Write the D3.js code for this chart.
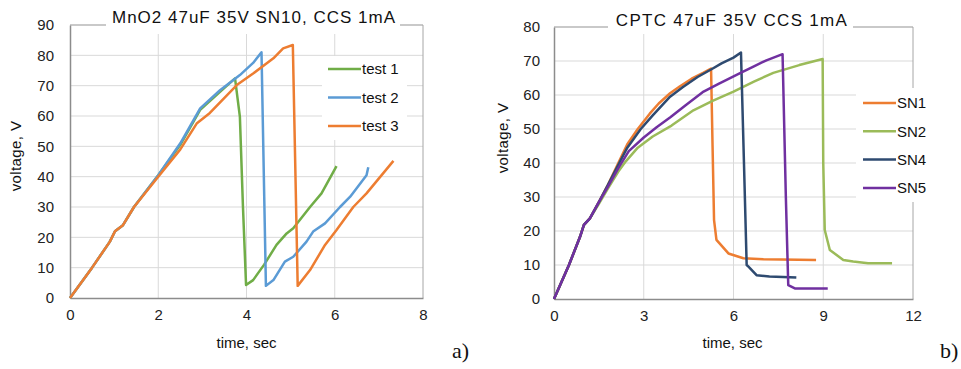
<!DOCTYPE html>
<html>
<head>
<meta charset="utf-8">
<script src="https://cdn.jsdelivr.net/npm/d3@7"></script>
<style>
  body { margin: 0; background: #fff; }
  svg { display: block; font-family: "Liberation Sans", Arial, sans-serif; }
</style>
</head>
<body>
<svg id="chart" width="961" height="369"></svg>
<script>
// ---- data (time in sec, voltage in V) ----
const leftTitle = 'MnO2 47uF 35V SN10, CCS 1mA';
const leftNames = ['test 1', 'test 2', 'test 3'];
const leftXTicks = [0, 2, 4, 6, 8];
const leftYTicks = [0, 10, 20, 30, 40, 50, 60, 70, 80, 90];

const test1 = [[0, 0], [0.5, 10], [0.9, 18.5], [1.02, 22], [1.2, 24], [1.45, 30], [2, 40.5], [2.5, 50.5],
  [2.95, 62], [3.4, 68], [3.74, 72.4], [3.85, 59.8], [3.92, 30], [3.99, 4.3], [4.15, 5.9], [4.4, 11],
  [4.68, 17.5], [4.91, 21.3], [5.06, 23], [5.44, 30], [5.7, 34.5], [6.04, 43.5]];
const test2 = [[0, 0], [0.5, 10], [0.9, 18.5], [1.02, 22], [1.2, 24], [1.45, 30], [2, 40.5], [2.5, 51],
  [2.95, 62.5], [3.4, 68.5], [3.85, 73.5], [4.15, 77.5], [4.34, 81], [4.44, 4], [4.61, 5.9], [4.87, 12],
  [5.06, 13.6], [5.36, 18.6], [5.51, 21.9], [5.78, 24.6], [6.12, 30], [6.35, 33.4], [6.72, 40.5], [6.76, 43.1]];
const test3 = [[0, 0], [0.5, 10], [0.9, 18.5], [1.02, 22], [1.2, 24], [1.45, 30], [2, 40], [2.5, 49],
  [2.87, 57.5], [3.17, 61], [3.5, 66], [3.78, 70.2], [4.15, 74], [4.61, 79], [4.83, 82.3], [5.05, 83.4],
  [5.16, 4], [5.44, 9.2], [5.78, 17.5], [6.04, 22.4], [6.42, 30], [6.72, 34.5], [7.33, 45.2]];

const rightTitle = 'CPTC 47uF 35V CCS 1mA';
const rightNames = ['SN1', 'SN2', 'SN4', 'SN5'];
const rightXTicks = [0, 3, 6, 9, 12];
const rightYTicks = [0, 10, 20, 30, 40, 50, 60, 70, 80];

const sn1 = [[0, 0], [0.5, 10], [0.87, 18.3], [1.0, 21.8], [1.2, 23.7], [1.5, 28.5], [1.8, 33.5], [2.15, 40],
  [2.45, 45.5], [2.8, 50], [3.2, 54.5], [3.5, 57.5], [3.88, 60.5], [4.2, 62.5], [4.6, 64.8], [5.0, 66.6],
  [5.25, 67.8], [5.3, 45], [5.35, 23.2], [5.43, 17.4], [5.83, 13.4], [6.33, 12], [7.0, 11.7], [8.76, 11.5]];
const sn2 = [[0, 0], [0.5, 10], [0.87, 18.3], [1.0, 21.8], [1.2, 23.7], [1.5, 28], [1.8, 32.5], [2.15, 37.5],
  [2.4, 40.5], [2.8, 44.5], [3.3, 47.8], [3.93, 51], [4.66, 55.5], [5.3, 58.3], [6.0, 61], [6.7, 64],
  [7.33, 66.5], [8.2, 68.8], [8.98, 70.6], [9.0, 40], [9.05, 20.3], [9.22, 14.4], [9.67, 11.5], [10.0, 11],
  [10.5, 10.5], [11.3, 10.5]];
const sn4 = [[0, 0], [0.5, 10], [0.87, 18.3], [1.0, 21.8], [1.2, 23.7], [1.5, 28.5], [1.8, 33.5], [2.15, 39.5],
  [2.45, 44.5], [2.9, 50], [3.3, 54], [3.88, 59.5], [4.3, 62.3], [4.8, 65.3], [5.25, 67.5], [5.6, 69.3],
  [6.0, 71], [6.25, 72.5], [6.35, 40], [6.44, 10], [6.5, 9.5], [6.77, 7], [7.2, 6.6], [8.1, 6.3]];
const sn5 = [[0, 0], [0.5, 10], [0.87, 18.3], [1.0, 21.8], [1.2, 23.7], [1.5, 28.5], [1.8, 33], [2.15, 38.5],
  [2.5, 43.5], [3.0, 47.5], [3.43, 50.5], [3.9, 53.5], [4.4, 57], [5.0, 61], [5.5, 63.3], [6.22, 66.4],
  [6.7, 68.5], [7.1, 70.2], [7.64, 72], [7.75, 30], [7.83, 4.1], [8.05, 3.1], [9.15, 3.1]];

const svg = d3.select('#chart');

function drawChart(cfg) {
  const x = d3.scaleLinear().domain(cfg.xDomain).range(cfg.xRange);
  const y = d3.scaleLinear().domain(cfg.yDomain).range(cfg.yRange);
  const g = svg.append('g');

  // gridlines
  g.append('g').selectAll('line.h')
    .data(cfg.yTicks.slice(1))
    .enter().append('line')
    .attr('x1', cfg.xRange[0]).attr('x2', cfg.xRange[1])
    .attr('y1', d => y(d)).attr('y2', d => y(d))
    .attr('stroke', '#d9d9d9').attr('stroke-width', 1);
  g.append('g').selectAll('line.v')
    .data(cfg.xTicks.slice(1, -1))
    .enter().append('line')
    .attr('x1', d => x(d)).attr('x2', d => x(d))
    .attr('y1', cfg.yRange[0]).attr('y2', cfg.yRange[1])
    .attr('stroke', '#d9d9d9').attr('stroke-width', 1);

  // plot border (top / right)
  g.append('path')
    .attr('d', 'M' + cfg.xRange[0] + ',' + y(cfg.yDomain[1]) + 'H' + cfg.xRange[1] + 'V' + cfg.yRange[0])
    .attr('fill', 'none').attr('stroke', '#a6a6a6').attr('stroke-width', 1);

  // axes
  g.append('g')
    .attr('transform', 'translate(0,' + cfg.yRange[0] + ')')
    .call(d3.axisBottom(x).tickValues(cfg.xTicks).tickSize(0).tickPadding(11))
    .call(a => a.select('.domain').attr('stroke', '#8c8c8c').attr('stroke-width', 1.5))
    .call(a => a.selectAll('text').attr('font-size', 15).attr('fill', '#222').attr('font-family', 'Liberation Sans, Arial, sans-serif'));
  g.append('g')
    .attr('transform', 'translate(' + cfg.xRange[0] + ',0)')
    .call(d3.axisLeft(y).tickValues(cfg.yTicks).tickSize(0).tickPadding(cfg.yPad))
    .call(a => a.select('.domain').attr('stroke', '#8c8c8c').attr('stroke-width', 1.5))
    .call(a => a.selectAll('text').attr('font-size', 15).attr('fill', '#222').attr('font-family', 'Liberation Sans, Arial, sans-serif'));

  // series
  const line = d3.line().x(d => x(d[0])).y(d => y(d[1]));
  cfg.series.forEach((s, i) => {
    g.append('path')
      .datum(s)
      .attr('d', line)
      .attr('fill', 'none')
      .attr('stroke', cfg.colors[i])
      .attr('stroke-width', 2.5)
      .attr('stroke-linejoin', 'round');
  });

  // title with white box over the border
  g.append('rect')
    .attr('x', cfg.titleBox[0]).attr('y', 8)
    .attr('width', cfg.titleBox[1] - cfg.titleBox[0]).attr('height', 26)
    .attr('fill', '#fff');
  g.append('text')
    .attr('x', cfg.titleX).attr('y', cfg.titleY)
    .attr('text-anchor', 'middle')
    .attr('font-size', 17).attr('letter-spacing', cfg.titleSpacing).attr('fill', '#111')
    .text(cfg.title);

  // legend
  const lb = cfg.legendBox;
  g.append('rect')
    .attr('x', lb[0]).attr('y', lb[1]).attr('width', lb[2]).attr('height', lb[3])
    .attr('fill', '#fff');
  const items = g.append('g').selectAll('g')
    .data(cfg.names)
    .enter().append('g')
    .attr('transform', (d, i) => 'translate(' + cfg.legendX + ',' + (cfg.legendY + i * cfg.legendStep) + ')');
  items.append('line')
    .attr('x1', 0).attr('x2', 33)
    .attr('stroke', (d, i) => cfg.colors[i]).attr('stroke-width', 2.5);
  items.append('text')
    .attr('x', 34).attr('dy', '0.36em')
    .attr('font-size', 15).attr('fill', '#111')
    .text(d => d);

  // axis titles
  g.append('text')
    .attr('x', (cfg.xRange[0] + cfg.xRange[1]) / 2 + cfg.xTitleDx).attr('y', 348)
    .attr('text-anchor', 'middle').attr('font-size', 15).attr('fill', '#111')
    .text('time, sec');
  g.append('text')
    .attr('transform', 'translate(' + cfg.yTitleX + ',' + cfg.yTitleY + ') rotate(-90)')
    .attr('text-anchor', 'middle').attr('font-size', 15).attr('letter-spacing', 0.4).attr('fill', '#111')
    .text('voltage, V');

  // panel letter
  g.append('text')
    .attr('x', cfg.letterX).attr('y', 358)
    .attr('font-family', 'Liberation Serif, Times New Roman, serif')
    .attr('font-size', 22).attr('fill', '#111')
    .text(cfg.letter);
}

drawChart({
  xDomain: [0, 8], xRange: [70, 423], yDomain: [0, 90], yRange: [298, 25],
  xTicks: leftXTicks, yTicks: leftYTicks, yPad: 16,
  series: [test1, test2, test3], names: leftNames,
  colors: ['#70ad47', '#5b9bd5', '#ed7d31'],
  title: leftTitle, titleX: 254, titleY: 23, titleBox: [106, 400], titleSpacing: 1.0,
  legendBox: [322, 56, 85, 84], legendX: 328, legendY: 69, legendStep: 28.5,
  xTitleDx: 0, yTitleX: 21, yTitleY: 156,
  letter: 'a)', letterX: 452
});

drawChart({
  xDomain: [0, 12], xRange: [554, 913], yDomain: [0, 80], yRange: [299, 27],
  xTicks: rightXTicks, yTicks: rightYTicks, yPad: 14,
  series: [sn1, sn2, sn4, sn5], names: rightNames,
  colors: ['#ed7d31', '#9bbb59', '#2e4a70', '#7030a0'],
  title: rightTitle, titleX: 732, titleY: 26, titleBox: [608, 853], titleSpacing: 1.3,
  legendBox: [856, 88, 105, 114], legendX: 863, legendY: 103, legendStep: 28.3,
  xTitleDx: -1, yTitleX: 508, yTitleY: 138,
  letter: 'b)', letterX: 940
});
</script>
</body>
</html>
